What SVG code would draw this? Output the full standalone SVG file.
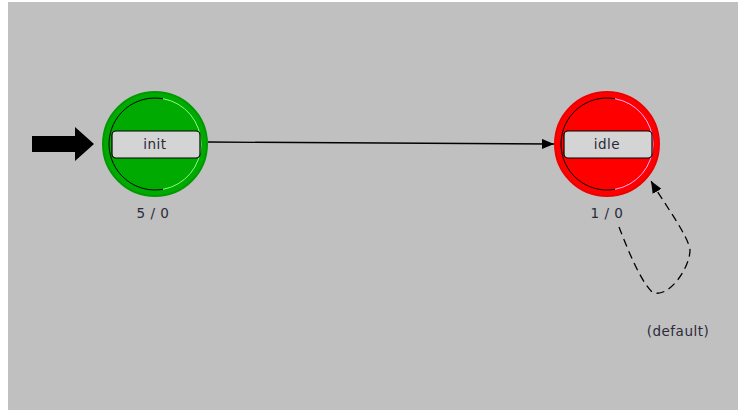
<svg xmlns="http://www.w3.org/2000/svg" width="738" height="411" viewBox="0 0 738 411">
  <style>
    .lbl { fill: #d4d4d4; stroke: #000; stroke-width: 1.2; }
    .txt { font-family: "DejaVu Sans", "Liberation Sans", sans-serif; font-size: 13.5px; letter-spacing: 0.5px; fill: #2a2a3a; text-anchor: middle; }
    .edge { fill: none; stroke: #000; stroke-width: 1.3; }
    .dash { stroke-dasharray: 8 5; }
  </style>
  <defs>
    <marker id="arrow" viewBox="0 0 12 10" refX="12" refY="5" markerWidth="12" markerHeight="10" markerUnits="userSpaceOnUse" orient="auto">
      <path d="M0,0 L12,5 L0,10 Z" fill="#000"/>
    </marker>
  </defs>

  <rect x="0" y="0" width="738" height="411" fill="#ffffff"/>
  <rect x="8" y="2" width="730" height="408" fill="#c0c0c0"/>

  <!-- entry arrow -->
  <path d="M32,136 L75,136 L75,127 L94,144 L75,161 L75,152 L32,152 Z" fill="#000"/>

  <g id="connectors">
    <path class="edge" d="M208,142 L554,144" marker-end="url(#arrow)"/>
    <path class="edge dash" d="M619,227 C628,250 640,280 652,292 C668,300 690,268 690,250 C688,235 665,205 651,181" marker-end="url(#arrow)"/>
  </g>

  <g id="init">
    <circle cx="155" cy="144" r="52" fill="#00aa00" stroke="#009900" stroke-width="2"/>
    <path d="M163,98.7 A46,46 0 1 0 163,189.3" fill="none" stroke="#000" stroke-width="1"/>
    <path d="M163,98.7 A46,46 0 0 1 163,189.3" fill="none" stroke="#88ff88" stroke-width="1"/>
    <rect class="lbl" x="112" y="131" width="88" height="27" rx="4"/>
    <text class="txt" x="155" y="149">init</text>
    <text class="txt" x="153" y="218">5 / 0</text>
  </g>

  <g id="idle">
    <circle cx="607" cy="144" r="52" fill="#ff0000" stroke="#ee0000" stroke-width="2"/>
    <path d="M615,98.7 A46,46 0 1 0 615,189.3" fill="none" stroke="#000" stroke-width="1"/>
    <path d="M615,98.7 A46,46 0 0 1 615,189.3" fill="none" stroke="#ffaaff" stroke-width="1"/>
    <rect class="lbl" x="564" y="131" width="88" height="27" rx="4"/>
    <text class="txt" x="607" y="149">idle</text>
    <text class="txt" x="607" y="218">1 / 0</text>
  </g>

  <text class="txt" x="678" y="336">(default)</text>
</svg>
